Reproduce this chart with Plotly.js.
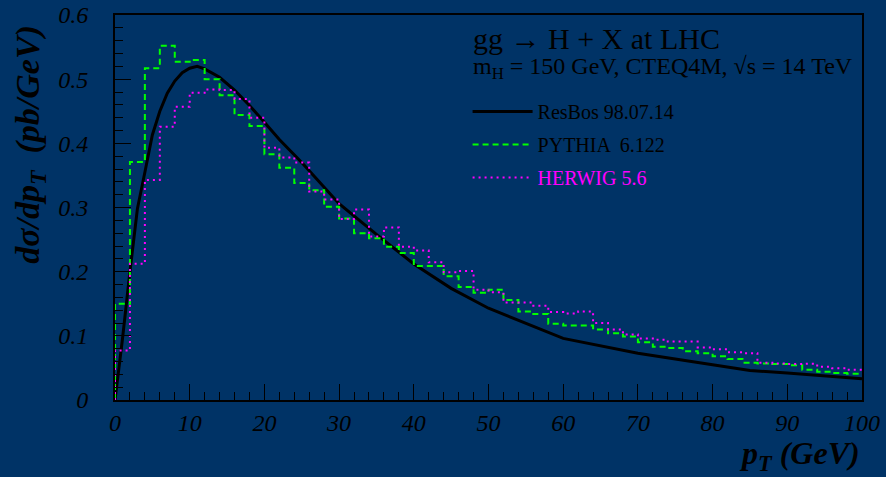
<!DOCTYPE html>
<html>
<head>
<meta charset="utf-8">
<script src="https://cdn.plot.ly/plotly-3.0.1.min.js"></script>
<style>html,body{margin:0;padding:0;background:#003366;}#chart{width:886px;height:477px;}</style>
</head>
<body>
<div id="chart"></div>
<script>
// Bin edges (GeV)
const binEdges = [0,2,4,6,8,10,12,14,16,18,20,22,24,26,28,30,32,34,36,38,40,42,44,46,48,50,52,54,56,58,60,62,64,66,68,70,72,74,76,78,80,82,84,86,88,90,92,94,96,98,100];
// PYTHIA 6.122 histogram (pb/GeV), one value per bin
const pythiaValues = [0.150,0.371,0.517,0.552,0.527,0.530,0.500,0.475,0.444,0.427,
  0.383,0.362,0.338,0.327,0.301,0.283,0.260,0.252,0.239,0.229,
  0.209,0.209,0.193,0.176,0.167,0.172,0.156,0.138,0.134,0.119,
  0.116,0.116,0.110,0.104,0.099,0.090,0.083,0.081,0.076,0.073,
  0.068,0.064,0.058,0.057,0.056,0.054,0.047,0.044,0.042,0.041];
// HERWIG 5.6 histogram (pb/GeV)
const herwigValues = [0.077,0.2125,0.343,0.426,0.457,0.479,0.484,0.483,0.469,0.440,
  0.393,0.378,0.370,0.325,0.3125,0.282,0.297,0.255,0.269,0.239,
  0.233,0.2145,0.199,0.201,0.172,0.168,0.152,0.152,0.147,0.137,
  0.135,0.138,0.120,0.110,0.102,0.096,0.094,0.091,0.091,0.082,
  0.079,0.0745,0.073,0.058,0.057,0.056,0.0565,0.052,0.0495,0.047];
// ResBos 98.07.14 curve
const resbosPt = [0,1,2,3,4,5,6,7,8,9,10,11,12,14,16,18,20,22,25,30,35,40,45,50,60,70,80,85,90,100];
const resbosValues = [0,0.095,0.200,0.298,0.355,0.413,0.450,0.478,0.497,0.510,0.517,0.520,0.516,0.503,0.483,0.459,0.433,0.406,0.370,0.306,0.258,0.212,0.174,0.143,0.096,0.073,0.055,0.046,0.042,0.033];

const xTickVals = [0,10,20,30,40,50,60,70,80,90,100];
const xTickText = ['0','10','20','30','40','50','60','70','80','90','100'];
const yTickVals = [0,0.1,0.2,0.3,0.4,0.5,0.6];
const yTickText = ['0','0.1','0.2','0.3','0.4','0.5','0.6'];

function stepX(edges){ return [edges[0]].concat(edges); }
function stepY(vals){ return [0].concat(vals, [vals[vals.length-1]]); }

const serif = 'Liberation Serif, Times New Roman, serif';

const traces = [
  {x: resbosPt, y: resbosValues, mode: 'lines', name: 'ResBos 98.07.14',
   line: {color: '#000000', width: 3}, legendgroup: 'a'},
  {x: stepX(binEdges), y: stepY(pythiaValues), mode: 'lines', name: 'PYTHIA  6.122',
   line: {color: '#00ff00', width: 2, dash: '6px,4px', shape: 'hv'}, legendgroup: 'b'},
  {x: stepX(binEdges), y: stepY(herwigValues), mode: 'lines',
   name: '<span style="color:#ff00ff">HERWIG 5.6</span>',
   line: {color: '#ff00ff', width: 2, dash: '2px,4px', shape: 'hv'}, legendgroup: 'c'}
];

const layout = {
  width: 886, height: 477,
  paper_bgcolor: '#003366', plot_bgcolor: '#003366',
  margin: {l: 115, r: 24, t: 15, b: 77},
  font: {family: serif, color: '#000000'},
  showlegend: true,
  legend: {x: 0.472, y: 0.80, xanchor: 'left', yanchor: 'top', bgcolor: 'rgba(0,0,0,0)',
    font: {family: serif, size: 20, color: '#000000'}, traceorder: 'grouped', tracegroupgap: 4,
    itemwidth: 60},
  xaxis: {range: [0, 100], tickvals: xTickVals, ticktext: xTickText,
    ticks: 'inside', ticklen: 16, tickwidth: 1, tickcolor: '#000000',
    minor: {dtick: 2, ticks: 'inside', ticklen: 8, tickwidth: 1, tickcolor: '#000000'},
    showline: true, linecolor: '#000000', linewidth: 2, mirror: true,
    showgrid: false, zeroline: false, ticklabelstandoff: 0,
    tickfont: {family: serif, size: 24, style: 'italic', color: '#000000'}},
  yaxis: {range: [0, 0.6], tickvals: yTickVals, ticktext: yTickText,
    ticks: 'inside', ticklen: 16, tickwidth: 1, tickcolor: '#000000',
    minor: {dtick: 0.02, ticks: 'inside', ticklen: 8, tickwidth: 1, tickcolor: '#000000'},
    showline: true, linecolor: '#000000', linewidth: 2, mirror: true,
    showgrid: false, zeroline: false, ticklabelstandoff: 20,
    tickfont: {family: serif, size: 24, style: 'italic', color: '#000000'}},
  annotations: [
    {xref: 'paper', yref: 'paper', x: 0.477, y: 0.94, xanchor: 'left', yanchor: 'middle',
     showarrow: false, text: 'gg \u2192 H + X at LHC', font: {family: serif, size: 30, color: '#000000'}},
    {xref: 'paper', yref: 'paper', x: 0.477, y: 0.862, xanchor: 'left', yanchor: 'middle',
     showarrow: false, text: 'm<sub>H</sub> = 150 GeV, CTEQ4M, \u221As = 14 TeV',
     font: {family: serif, size: 24, color: '#000000'}},
    {xref: 'paper', yref: 'paper', x: -0.114, y: 0.665, xanchor: 'center', yanchor: 'middle',
     showarrow: false, textangle: -90, text: '<b><i>d\u03c3/dp<sub>T</sub>  (pb/GeV)</i></b>',
     font: {family: serif, size: 34, color: '#000000'}},
    {xref: 'paper', yref: 'paper', x: 1.0, y: -0.143, xanchor: 'right', yanchor: 'middle',
     showarrow: false, text: '<b><i>p<sub>T</sub> (GeV)</i></b>',
     font: {family: serif, size: 32, color: '#000000'}}
  ]
};

Plotly.newPlot('chart', traces, layout, {displayModeBar: false, staticPlot: true});
</script>
</body>
</html>
